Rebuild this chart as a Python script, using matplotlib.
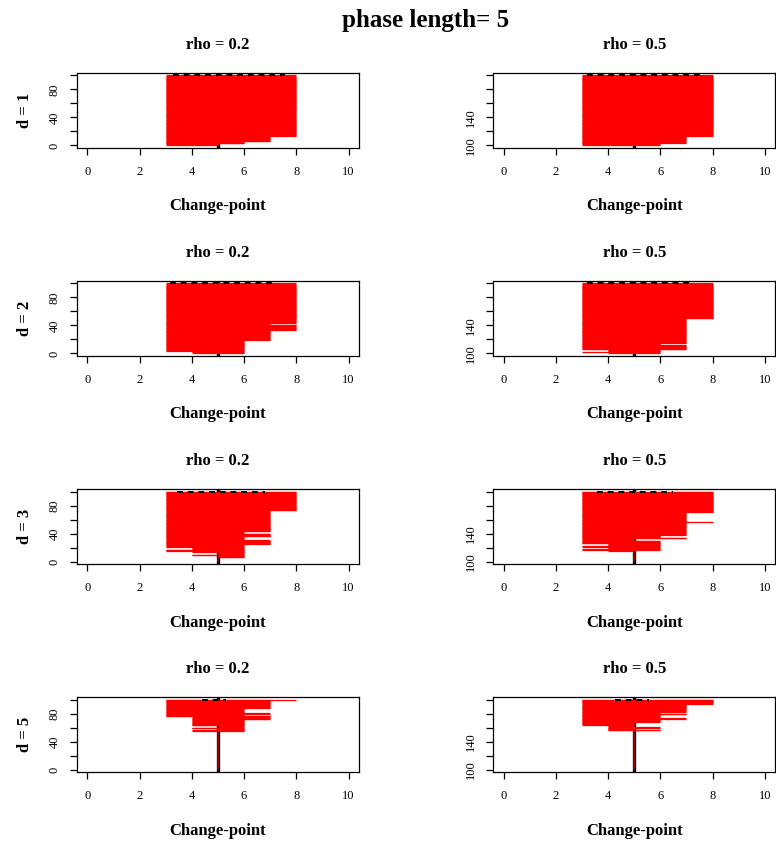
import matplotlib
matplotlib.use("Agg")
import matplotlib.pyplot as plt
import numpy as np

plt.rcParams["font.family"] = ["Liberation Serif", "DejaVu Serif"]

D_VALUES = [1, 2, 3, 5]
RHO_VALUES = [0.2, 0.5]
ROW_OFFSET = [0, 100]          # rho = 0.5 replications are numbered 101..200
TRUE_CP = 5

# ----- interval runs, bottom to top: lower end, upper end, replications -----
D1_R02_LO = [3, 3, 3, 3]
D1_R02_HI = [5, 6, 7, 8]
D1_R02_N = [2, 3, 8, 87]

D1_R05_LO = [3, 3, 3]
D1_R05_HI = [6, 7, 8]
D1_R05_N = [3, 10, 87]

D2_R02_LO = [4, 3, 3, 3, 3, 3]
D2_R02_HI = [6, 6, 7, 8, 7, 8]
D2_R02_N = [3, 15, 15, 8, 2, 57]

D2_R05_LO = [4, 3, 4, 3, 3, 3, 3]
D2_R05_HI = [6, 6, 6, 7, 6, 7, 8]
D2_R05_N = [1, 1, 3, 7, 2, 35, 51]

D3_R02_LO = [5, 5, 4, 5, 4, 3, 4, 3, 3, 3, 3, 3, 3, 3]
D3_R02_HI = [5, 6, 6, 6, 6, 6, 6, 6, 7, 6, 7, 6, 7, 8]
D3_R02_N = [5, 3, 2, 3, 1, 3, 3, 4, 7, 4, 5, 2, 30, 28]

D3_R05_LO = [5, 4, 3, 4, 3, 4, 3, 3, 3, 3, 3, 3, 3, 3]
D3_R05_HI = [5, 5, 6, 6, 6, 6, 6, 5, 7, 6, 7, 8, 7, 8]
D3_R05_N = [14, 2, 2, 2, 2, 3, 5, 2, 2, 3, 19, 1, 13, 30]

D5_R02_LO = [5, 4, 5, 4, 5, 4, 4, 3, 3, 3, 3, 3, 3]
D5_R02_HI = [5, 6, 6, 6, 6, 6, 7, 7, 6, 7, 6, 7, 8]
D5_R02_N = [54, 2, 2, 2, 2, 9, 4, 2, 2, 2, 6, 12, 1]

D5_R05_LO = [5, 4, 4, 4, 4, 3, 3, 3, 3, 3, 3, 3, 3]
D5_R05_HI = [5, 6, 5, 6, 5, 5, 6, 7, 6, 7, 6, 7, 8]
D5_R05_N = [55, 2, 2, 2, 2, 4, 5, 2, 4, 2, 2, 11, 7]

# dashed reference segment drawn at the top row (rows: d, cols: rho)
DASH_LO = [[3.28, 3.18], [3.16, 3.18], [3.42, 3.56], [4.37, 4.27]]
DASH_HI = [[7.55, 7.56], [7.24, 7.24], [6.79, 6.48], [5.30, 5.57]]

PANELS = {
    (1, 0.2): (D1_R02_LO, D1_R02_HI, D1_R02_N),
    (1, 0.5): (D1_R05_LO, D1_R05_HI, D1_R05_N),
    (2, 0.2): (D2_R02_LO, D2_R02_HI, D2_R02_N),
    (2, 0.5): (D2_R05_LO, D2_R05_HI, D2_R05_N),
    (3, 0.2): (D3_R02_LO, D3_R02_HI, D3_R02_N),
    (3, 0.5): (D3_R05_LO, D3_R05_HI, D3_R05_N),
    (5, 0.2): (D5_R02_LO, D5_R02_HI, D5_R02_N),
    (5, 0.5): (D5_R05_LO, D5_R05_HI, D5_R05_N),
}

Y_TICK_LABELS = [["0", "", "40", "", "80", ""],
                 ["100", "", "140", "", "", ""]]

fig, axes = plt.subplots(4, 2, figsize=(7.76, 8.44), dpi=100)
fig.subplots_adjust(left=0.0992, right=0.999, top=0.9139, bottom=0.0857,
                    hspace=1.78, wspace=0.476)

for i, d in enumerate(D_VALUES):
    for j, rho in enumerate(RHO_VALUES):
        ax = axes[i, j]
        lo, hi, n = PANELS[(d, rho)]
        lo_rows = np.repeat(lo, n)
        hi_rows = np.repeat(hi, n)
        y = ROW_OFFSET[j] + np.arange(1, len(lo_rows) + 1)

        ax.axvline(TRUE_CP, color="black", lw=2.4, zorder=1)
        ax.hlines(y, lo_rows, hi_rows, colors="red", lw=0.9, zorder=2)
        point = lo_rows == hi_rows
        if point.any():
            ax.scatter(lo_rows[point], y[point], marker="s", s=1.0,
                       color="#8b0000", linewidths=0, zorder=3)
        ax.hlines(y[-1], DASH_LO[i][j], DASH_HI[i][j], colors="black",
                  linestyles=(0, (3, 2.5)), lw=1.4, zorder=4)

        ax.set_xlim(-0.4, 10.4)
        ax.set_ylim(ROW_OFFSET[j] - 2.96, ROW_OFFSET[j] + 103.96)
        ax.set_xticks(range(0, 11, 2))
        ax.set_yticks(np.arange(ROW_OFFSET[j], ROW_OFFSET[j] + 101, 20))
        ax.set_yticklabels(Y_TICK_LABELS[j], rotation=90, va="center")
        ax.tick_params(direction="out", length=5, width=0.9, labelsize=9)
        ax.tick_params(axis="x", pad=8)
        ax.tick_params(axis="y", pad=7)
        for s in ax.spines.values():
            s.set_linewidth(0.9)

        ax.set_title(f"rho = {rho}", fontsize=12, fontweight="bold", pad=17)
        ax.set_xlabel("Change-point", fontsize=12, fontweight="bold",
                      labelpad=15)
        if j == 0:
            ax.set_ylabel(f"d = {d}", fontsize=12, fontweight="bold",
                          labelpad=11)

fig.text(0.548, 1 - 20 / 844, "phase length= 5", ha="center", va="center",
         fontsize=18, fontweight="bold")

fig.savefig("out.png", dpi=100)
